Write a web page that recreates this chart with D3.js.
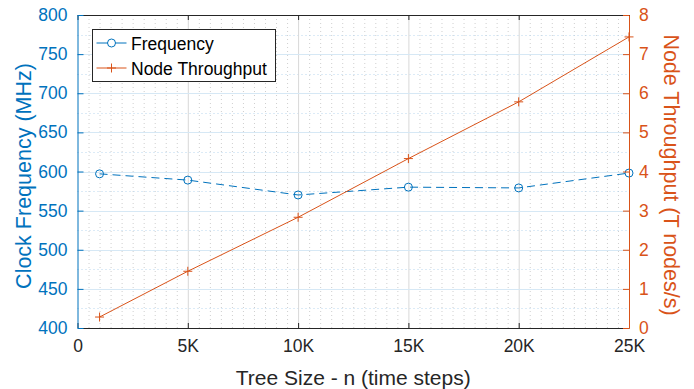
<!DOCTYPE html>
<html>
<head>
<meta charset="utf-8">
<script src="https://cdn.jsdelivr.net/npm/d3@7"></script>
<style>
  body { margin: 0; background: #fff; }
  svg text { font-family: "Liberation Sans", Arial, Helvetica, sans-serif; }
</style>
</head>
<body>
<script>
// data
var treeSizes = [1000, 5000, 10000, 15000, 20000, 25000];
var frequency = [597, 589, 570, 580, 579, 598];          // MHz
var throughput = [0.28, 1.45, 2.83, 4.33, 5.78, 7.44];    // T nodes/s
var xTicks = [0, 5000, 10000, 15000, 20000, 25000];
var freqTicks = [400, 450, 500, 550, 600, 650, 700, 750, 800];
var thrTicks = [0, 1, 2, 3, 4, 5, 6, 7, 8];
var seriesNames = ["Frequency", "Node Throughput"];

var W = 694, H = 389;
var margin = {top: 15, right: 65, bottom: 61, left: 77.5};

var blue = "#0072BD", orange = "#D95319", dark = "#262626";

var svg = d3.select("body").append("svg")
  .attr("width", W)
  .attr("height", H);

var x = d3.scaleLinear().domain([0, 25000]).range([margin.left, W - margin.right]);
var yL = d3.scaleLinear().domain([400, 800]).range([H - margin.bottom, margin.top]);
var yR = d3.scaleLinear().domain([0, 8]).range([H - margin.bottom, margin.top]);

var x0 = x.range()[0], x1 = x.range()[1], yb = yL.range()[0], yt = yL.range()[1];

// ---- grid ----
var grid = svg.append("g");
// minor vertical (every 500)
grid.selectAll("line.vmin")
  .data(d3.range(0, 25001, 500).filter(d => d % 5000 != 0))
  .enter().append("line")
  .attr("x1", d => x(d) + 0.5).attr("x2", d => x(d) + 0.5)
  .attr("y1", yt).attr("y2", yb)
  .attr("stroke", "#cfcfcf").attr("stroke-dasharray", "1,3");
// minor horizontal (every 25 MHz)
grid.selectAll("line.hmin")
  .data(d3.range(400, 801, 25).filter(d => d % 50 != 0))
  .enter().append("line")
  .attr("x1", x0).attr("x2", x1)
  .attr("y1", d => Math.round(yL(d)) + 0.5).attr("y2", d => Math.round(yL(d)) + 0.5)
  .attr("stroke", "#b9d7ee").attr("stroke-dasharray", "1,3");
// major vertical
grid.selectAll("line.vmaj")
  .data(xTicks.slice(1, -1))
  .enter().append("line")
  .attr("x1", d => x(d) + 0.5).attr("x2", d => x(d) + 0.5)
  .attr("y1", yt).attr("y2", yb)
  .attr("stroke", "#d8d8d8");
// major horizontal
grid.selectAll("line.hmaj")
  .data(freqTicks.slice(1, -1))
  .enter().append("line")
  .attr("x1", x0).attr("x2", x1)
  .attr("y1", d => Math.round(yL(d)) + 0.5).attr("y2", d => Math.round(yL(d)) + 0.5)
  .attr("stroke", "#d6e8f5");

// ---- data lines ----
var freqLine = d3.line().x((d, i) => x(treeSizes[i])).y(d => yL(d));
var thrLine = d3.line().x((d, i) => x(treeSizes[i])).y(d => yR(d));

svg.append("path")
  .attr("d", freqLine(frequency))
  .attr("fill", "none").attr("stroke", blue).attr("stroke-width", 1)
  .attr("stroke-dasharray", "8,5");

svg.append("path")
  .attr("d", thrLine(throughput))
  .attr("fill", "none").attr("stroke", orange).attr("stroke-width", 1);

svg.selectAll("circle.freq")
  .data(frequency)
  .enter().append("circle")
  .attr("cx", (d, i) => x(treeSizes[i]))
  .attr("cy", d => yL(d))
  .attr("r", 4)
  .attr("fill", "none").attr("stroke", blue).attr("stroke-width", 1);

function plus(g, cx, cy, s, color) {
  g.append("path")
    .attr("d", "M" + (cx - s) + "," + cy + "H" + (cx + s) + "M" + cx + "," + (cy - s) + "V" + (cy + s))
    .attr("stroke", color).attr("stroke-width", 1).attr("fill", "none");
}
throughput.forEach(function(d, i) {
  plus(svg, x(treeSizes[i]), yR(d), 4.5, orange);
});

// ---- axes ----
function styleAxis(g, color, fs) {
  g.select(".domain").attr("stroke", color);
  g.selectAll(".tick line").attr("stroke", color);
  g.selectAll(".tick text").attr("fill", color).style("font-size", fs + "px");
}

var fmtK = d => d == 0 ? "0" : (d / 1000) + "K";

var xAxis = svg.append("g")
  .attr("transform", "translate(0," + yb + ")")
  .call(d3.axisBottom(x).tickValues(xTicks).tickFormat(fmtK).tickSizeInner(-5).tickSizeOuter(0).tickPadding(12));
styleAxis(xAxis, dark, 17.5);

var xTop = svg.append("g")
  .attr("transform", "translate(0," + yt + ")")
  .call(d3.axisTop(x).tickValues(xTicks).tickFormat("").tickSizeInner(-5).tickSizeOuter(0));
styleAxis(xTop, dark, 17.5);

var yAxisL = svg.append("g")
  .attr("transform", "translate(" + x0 + ",0)")
  .call(d3.axisLeft(yL).tickValues(freqTicks).tickSizeInner(-6).tickSizeOuter(0).tickPadding(10));
styleAxis(yAxisL, blue, 17.5);

var yAxisR = svg.append("g")
  .attr("transform", "translate(" + x1 + ",0)")
  .call(d3.axisRight(yR).tickValues(thrTicks).tickSizeInner(-6).tickSizeOuter(0).tickPadding(10));
styleAxis(yAxisR, orange, 17.5);

// axis titles
svg.append("text")
  .attr("x", (x0 + x1) / 2).attr("y", 385)
  .attr("text-anchor", "middle")
  .attr("fill", dark).style("font-size", "21px")
  .text("Tree Size - n (time steps)");

svg.append("text")
  .attr("transform", "translate(31," + 176 + ") rotate(-90)")
  .attr("text-anchor", "middle")
  .attr("fill", blue).style("font-size", "21.5px")
  .text("Clock Frequency (MHz)");

svg.append("text")
  .attr("transform", "translate(664," + 175 + ") rotate(90)")
  .attr("text-anchor", "middle")
  .attr("fill", orange).style("font-size", "21.5px")
  .text("Node Throughput (T nodes/s)");

// ---- legend ----
var leg = svg.append("g").attr("transform", "translate(92.5,29.5)");
leg.append("rect")
  .attr("width", 183).attr("height", 52)
  .attr("fill", "#fff").attr("stroke", dark).attr("stroke-width", 1);

var rowY = [13.5, 38.5];
var legColors = [blue, orange];
seriesNames.forEach(function(name, i) {
  leg.append("line")
    .attr("x1", 4).attr("x2", 34).attr("y1", rowY[i]).attr("y2", rowY[i])
    .attr("stroke", legColors[i]).attr("stroke-width", 1);
  if (i == 0) {
    leg.append("circle").attr("cx", 19).attr("cy", rowY[i]).attr("r", 4)
      .attr("fill", "#fff").attr("stroke", blue).attr("stroke-width", 1);
  } else {
    plus(leg, 19, rowY[i], 4.5, orange);
  }
  leg.append("text")
    .attr("x", 38.5).attr("y", rowY[i] + 6.5)
    .attr("fill", "#000").style("font-size", "17.5px")
    .text(name);
});
</script>
</body>
</html>
